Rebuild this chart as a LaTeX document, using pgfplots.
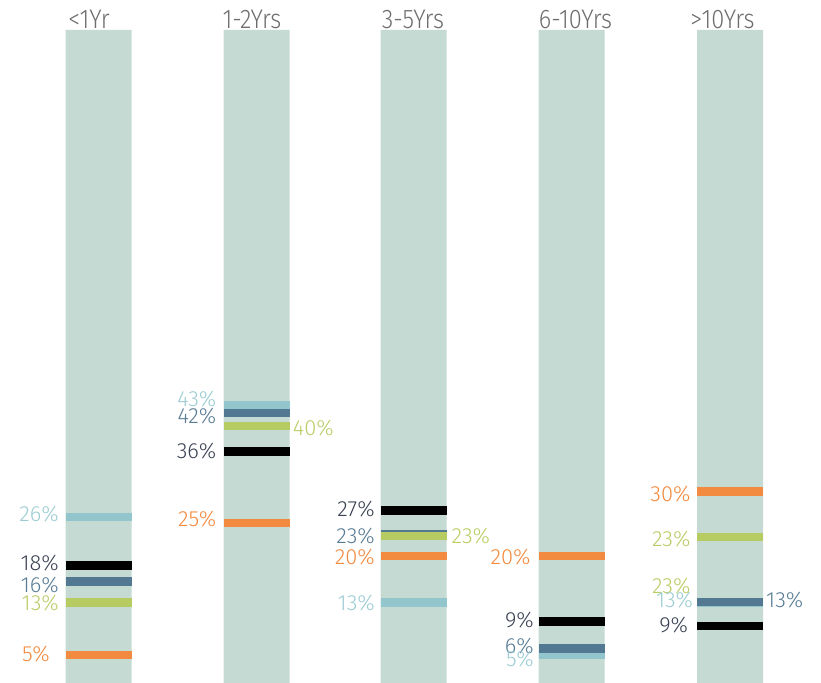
\documentclass[border=0pt]{standalone}
\usepackage{fontspec}
\setmainfont{Fira Sans}[UprightFont=* Light]
\newfontfamily\titlefont{Fira Sans}[UprightFont=* Light, FakeStretch=0.88]
\usepackage{pgfplots}
\pgfplotsset{compat=1.18}
\definecolor{sage}{HTML}{C5DAD3}
\definecolor{lb}{HTML}{93C6CC}
\definecolor{db}{HTML}{527892}
\definecolor{gr}{HTML}{B6CC62}
\definecolor{orng}{HTML}{F28A3F}
\definecolor{blk}{HTML}{000000}
\definecolor{lbt}{HTML}{9CCCD2}
\definecolor{dbt}{HTML}{587C95}
\definecolor{grt}{HTML}{B9CD66}
\definecolor{ort}{HTML}{F28A3F}
\definecolor{nvt}{HTML}{3A4152}
\definecolor{ttl}{HTML}{6E6E6E}
\tikzset{
  lbl/.style={inner sep=0pt, font=\fontsize{22}{25}\selectfont},
  ttlstyle/.style={inner sep=0pt, anchor=base, text=ttl, font=\titlefont\fontsize{27}{30}\selectfont},
}
\pgfplotsset{
  mk/.style={only marks, mark=-, mark size=33bp, mark options={line width=8.5bp, draw=#1}},
}
\begin{document}
\begin{tikzpicture}
\begin{axis}[
  scale only axis, width=821bp, height=683bp,
  xmin=0, xmax=821, ymin=0.745, ymax=104.56,
  hide axis,
]
\path (rel axis cs:0,0) rectangle (rel axis cs:1,1);
% background columns
\addplot[ybar, bar width=66, bar shift=0pt, fill=sage, draw=none]
  coordinates {(98.5,100) (256.5,100) (413.5,100) (571.5,100) (730,100)};
% light blue series
\addplot[mk=lb] coordinates {(98.5,25.98) (256.5,42.9) (413.5,12.98) (571.5,5.0) (730,13.0)};
% dark blue series
\addplot[mk=db] coordinates {(98.5,16.17) (256.5,41.8) (413.5,23.36) (571.5,6.02) (730,13.06)};
% green series
\addplot[mk=gr] coordinates {(98.5,12.95) (256.5,39.8) (413.5,23.06) (730,22.9)};
% orange series
\addplot[mk=orng] coordinates {(98.5,5.0) (256.5,25.06) (413.5,20.05) (571.5,20.05) (730,29.85)};
% black series
\addplot[mk=blk] coordinates {(98.5,18.6) (256.5,35.9) (413.5,26.93) (571.5,10.09) (730,9.41)};
% titles
\node[ttlstyle] at (axis cs:89,100.29) {<1Yr};
\node[ttlstyle] at (axis cs:252,100.29) {1-2Yrs};
\node[ttlstyle] at (axis cs:413,100.29) {3-5Yrs};
\node[ttlstyle] at (axis cs:575.5,100.29) {6-10Yrs};
\node[ttlstyle] at (axis cs:722.5,100.29) {>10Yrs};
% labels <1Yr
\node[lbl, anchor=base east, text=lbt] at (axis cs:59,25.22) {26\%};
\node[lbl, anchor=base east, text=nvt] at (axis cs:59,17.77) {18\%};
\node[lbl, anchor=base east, text=dbt] at (axis cs:59,14.47) {16\%};
\node[lbl, anchor=base east, text=grt] at (axis cs:59,11.73) {13\%};
\node[lbl, anchor=base west, text=ort] at (axis cs:22,3.98) {5\%};
% labels 1-2Yrs
\node[lbl, anchor=base east, text=lbt] at (axis cs:216.5,42.74) {43\%};
\node[lbl, anchor=base east, text=dbt] at (axis cs:216.5,40.22) {42\%};
\node[lbl, anchor=base west, text=grt] at (axis cs:292.7,38.29) {40\%};
\node[lbl, anchor=base east, text=nvt] at (axis cs:216.5,34.94) {36\%};
\node[lbl, anchor=base east, text=ort] at (axis cs:216.5,24.50) {25\%};
% labels 3-5Yrs
\node[lbl, anchor=base east, text=nvt] at (axis cs:375,26.02) {27\%};
\node[lbl, anchor=base east, text=dbt] at (axis cs:375,21.98) {23\%};
\node[lbl, anchor=base west, text=grt] at (axis cs:451.5,21.98) {23\%};
\node[lbl, anchor=base east, text=ort] at (axis cs:375,18.79) {20\%};
\node[lbl, anchor=base east, text=lbt] at (axis cs:375,11.69) {13\%};
% labels 6-10Yrs
\node[lbl, anchor=base east, text=ort] at (axis cs:530.7,18.79) {20\%};
\node[lbl, anchor=base east, text=nvt] at (axis cs:534,9.21) {9\%};
\node[lbl, anchor=base east, text=dbt] at (axis cs:534,5.26) {6\%};
\node[lbl, anchor=base east, text=lbt] at (axis cs:534,3.22) {5\%};
% labels >10Yrs
\node[lbl, anchor=base east, text=ort] at (axis cs:690.7,28.30) {30\%};
\node[lbl, anchor=base east, text=grt] at (axis cs:690.7,21.46) {23\%};
\node[lbl, anchor=base east, text=grt] at (axis cs:690.7,14.38) {23\%};
\node[lbl, anchor=base east, text=lbt] at (axis cs:693.3,12.25) {13\%};
\node[lbl, anchor=base west, text=dbt] at (axis cs:766,12.25) {13\%};
\node[lbl, anchor=base east, text=nvt] at (axis cs:688.3,8.45) {9\%};
\end{axis}
\end{tikzpicture}
\end{document}
